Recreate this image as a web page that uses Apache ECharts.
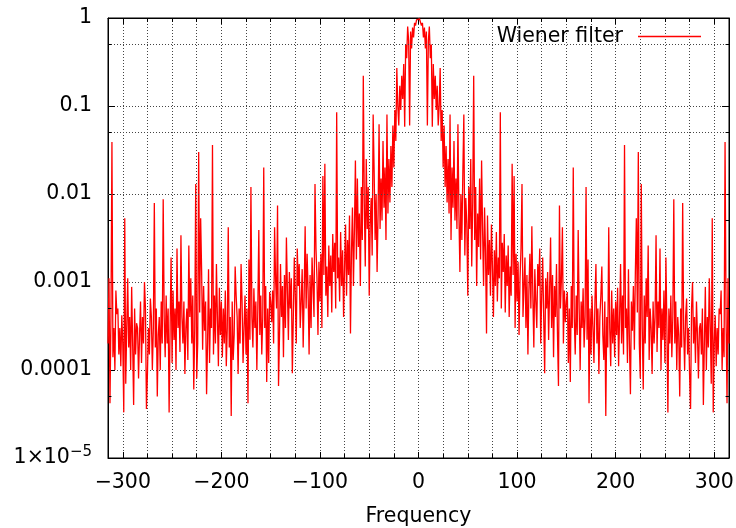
<!DOCTYPE html>
<html>
<head>
<meta charset="utf-8">
<script src="https://cdn.jsdelivr.net/npm/echarts@6/dist/echarts.min.js"></script>
<style>
  html, body { margin: 0; padding: 0; background: #fff; }
  #chart { width: 736px; height: 528px; }
</style>
</head>
<body>
<div id="chart"></div>
<script>
// Wiener filter gain for frequency k = 0, 1, 2, ...
// (the curve is mirror-symmetric around 0, so the negative side reuses these values)
const centralLobe = [
  1.0, 0.98, 0.95, 0.82, 0.88, 0.6, 0.78, 0.45, 0.7, 0.06,
  0.55, 0.8, 0.35, 0.5, 0.058, 0.3, 0.12, 0.22, 0.09, 0.17,
  0.06, 0.1, 0.27, 0.04, 0.09, 0.02, 0.06, 0.012, 0.035, 0.008,
  0.025, 0.006, 0.08, 0.003, 0.02, 0.007, 0.04, 0.005, 0.015, 0.004,
  0.062, 0.006, 0.0013, 0.01, 0.003, 0.018, 0.08, 0.002, 0.009, 0.0045
];
const midBand = [
  0.0007, 0.012, 0.004, 0.025, 0.0015, 0.008, 0.22, 0.003, 0.012, 0.0009,
  0.006, 0.0025, 0.015, 0.0018, 0.024, 0.004, 0.0009, 0.007, 0.0022, 0.00026,
  0.0057, 0.0012, 0.003, 0.0007, 0.0045, 0.0015, 0.0004, 0.0023, 0.0009, 0.0037,
  0.0006, 0.0019, 0.0011, 0.085, 0.0005, 0.0028, 0.0013, 0.0035, 0.00045, 0.002,
  0.0009, 0.0026, 0.0004, 0.0015, 0.0007, 0.022, 0.0012, 0.016, 0.0003, 0.0021,
  0.0006, 0.0017, 0.00025, 0.0011, 0.0024, 0.013, 0.0004, 0.0009, 0.0019, 0.0003,
  0.0012, 0.00015, 0.0008, 0.0021, 0.0005, 0.0043, 0.0007, 0.00018, 0.0014, 0.0006,
  0.0003, 0.0016, 0.0009, 0.0024, 0.0002, 0.0007, 0.0019, 0.0004, 0.000092, 0.0011,
  0.0005, 0.0013, 0.00022, 0.0008, 0.0032, 0.0003, 0.0012, 0.00014, 0.0009, 0.0004,
  0.0016, 0.00025, 0.000066, 0.0074, 0.0005, 0.0011, 0.0042, 0.0002, 0.0008, 0.00035
];
const highBand = [
  0.0006, 0.00077, 0.00012, 0.0005, 0.000073, 0.0009, 0.0003, 0.02, 0.0004, 0.00015,
  0.0007, 0.00025, 0.0039, 0.0005, 0.0001, 0.0006, 0.0003, 0.00085, 0.00018, 0.0004,
  0.012, 0.00022, 0.0018, 0.000042, 0.0005, 0.00015, 0.0007, 0.0003, 0.00012, 0.0006,
  0.0016, 0.0002, 0.0005, 0.00009, 0.0004, 0.0007, 0.0015, 0.00025, 0.00013, 0.0006,
  0.00003, 0.0004, 0.00018, 0.0042, 0.0003, 0.00011, 0.0008, 0.0002, 0.0005, 0.00014,
  0.0006, 0.00025, 0.00086, 0.00011, 0.0004, 0.0016, 0.0002, 0.0007, 0.00015, 0.036,
  0.0003, 0.0005, 0.00012, 0.0014, 0.0002, 0.000053, 0.0006, 0.00028, 0.0009, 0.00017,
  0.0013, 0.0053, 0.00045, 0.03, 0.0002, 0.00008, 0.013, 0.0003, 0.00006, 0.0007,
  0.0002, 0.0011, 0.0004, 0.0026, 0.00013, 0.0005, 0.0003, 0.00009, 0.0006, 0.0002,
  0.0004, 0.0034, 0.00016, 0.0006, 0.0003, 0.0024, 0.0001, 0.0005, 0.00022, 0.0008,
  0.00012, 0.0019, 0.0003, 0.000033, 0.0005, 0.0002, 0.0007, 0.00014, 0.0004, 0.0087,
  0.0002, 0.0006, 0.0001, 0.0004, 0.00025, 0.00005, 0.0005, 0.00018, 0.0079, 0.0003,
  0.0001, 0.0004, 0.00065, 0.00015, 0.0003, 0.00009, 0.000036, 0.0005, 0.001, 0.0002,
  0.0004, 0.00012, 0.0006, 0.00025, 0.00008, 0.0003, 0.00034, 0.00015, 0.0005, 0.00004,
  0.0002, 0.00088, 0.0001, 0.0004, 0.00018, 0.0011, 0.0003, 0.00007, 0.0053, 0.000033,
  0.0002, 0.00042, 0.00011, 0.0003, 0.00015, 0.0005, 0.00043, 0.0008, 0.0001, 0.0003,
  0.00014, 0.039, 0.0004, 0.000042, 0.0011, 0.0002
];
const xTickLabels = { '-300': '−300', '-200': '−200', '-100': '−100', '0': '0', '100': '100', '200': '200', '300': '300' };
const yTickLabels = ['1', '0.1', '0.01', '0.001', '0.0001', '1×10{sup|−5}'];
const yMinorGrid = [0.5, 0.05, 0.005, 0.0005, 0.00005];
const seriesName = 'Wiener filter';
const xName = 'Frequency';

const halfSpectrum = centralLobe.concat(midBand, highBand);
const kMax = halfSpectrum.length - 1;
const points = [];
for (let k = -kMax; k <= kMax; k++) points.push([k, halfSpectrum[Math.abs(k)]]);

const FONT = 'DejaVu Sans';
const FS = 20.5;
const dotted = { color: '#444', width: 1, type: [1, 2] };

const minorLines = [];
yMinorGrid.forEach(v => minorLines.push({ yAxis: v, lineStyle: dotted }));
yMinorGrid.forEach(v => {
  minorLines.push([{ coord: [-kMax, v] }, { coord: [-kMax + 3.5, v], lineStyle: { color: '#000', width: 1, type: 'solid' } }]);
  minorLines.push([{ coord: [kMax - 3.5, v] }, { coord: [kMax, v], lineStyle: { color: '#000', width: 1, type: 'solid' } }]);
});

const chart = echarts.init(document.getElementById('chart'), null, { renderer: 'canvas' });
const xBase = {
  type: 'value', min: -kMax, max: kMax,
  axisLine: { show: true, onZero: false, lineStyle: { color: '#000', width: 1 } },
  axisTick: { show: true, inside: true, length: 6, lineStyle: { color: '#000' } },
  minorTick: { show: true, splitNumber: 4, length: 4, lineStyle: { color: '#000' } },
  splitLine: { show: true, lineStyle: dotted },
  minorSplitLine: { show: true, lineStyle: dotted }
};
const yBase = {
  type: 'log', logBase: 10, min: 1e-5, max: 1,
  axisLine: { show: true, onZero: false, lineStyle: { color: '#000', width: 1 } },
  axisTick: { show: true, inside: true, length: 7, lineStyle: { color: '#000' } },
  splitLine: { show: true, lineStyle: dotted }
};
chart.setOption({
  animation: false,
  backgroundColor: '#fff',
  grid: {
    left: 108, right: 7, top: 18, bottom: 70, containLabel: false, outerBoundsMode: 'none',
    show: true, borderColor: '#000', borderWidth: 1, backgroundColor: 'transparent'
  },
  legend: {
    data: [seriesName], right: 30, top: 21, align: 'right',
    icon: 'rect', itemWidth: 63, itemHeight: 1.3,
    textStyle: { fontFamily: FONT, fontSize: FS, color: '#000', padding: [0, 10, 0, 0] }
  },
  xAxis: [
    Object.assign({}, xBase, {
      position: 'bottom',
      name: xName, nameLocation: 'middle', nameGap: 48,
      nameTextStyle: { fontFamily: FONT, fontSize: FS, color: '#000' },
      axisLabel: {
        fontFamily: FONT, fontSize: FS, color: '#000', margin: 14,
        showMinLabel: false, showMaxLabel: false,
        formatter: v => (Math.abs(v) <= 300 && Math.round(v) % 100 === 0) ? (xTickLabels[String(Math.round(v))] || '') : ''
      }
    }),
    Object.assign({}, xBase, { position: 'top', axisLabel: { show: false }, splitLine: { show: false }, minorSplitLine: { show: false } })
  ],
  yAxis: [
    Object.assign({}, yBase, {
      position: 'left',
      axisLabel: {
        fontFamily: FONT, fontSize: FS, color: '#000', margin: 16,
        formatter: v => yTickLabels[Math.round(-Math.log10(v))] || '',
        rich: { sup: { fontFamily: FONT, fontSize: 15, color: '#000', verticalAlign: 'top', padding: [0, 0, 12, 0] } }
      }
    }),
    Object.assign({}, yBase, { position: 'right', axisLabel: { show: false }, splitLine: { show: false } })
  ],
  series: [{
    name: seriesName, type: 'line', xAxisIndex: 0, yAxisIndex: 0,
    data: points, showSymbol: false, symbol: 'none',
    lineStyle: { color: '#ff0000', width: 1.3 }, itemStyle: { color: '#ff0000' },
    markLine: { silent: true, symbol: 'none', label: { show: false }, animation: false, data: minorLines }
  }]
});
</script>
</body>
</html>
